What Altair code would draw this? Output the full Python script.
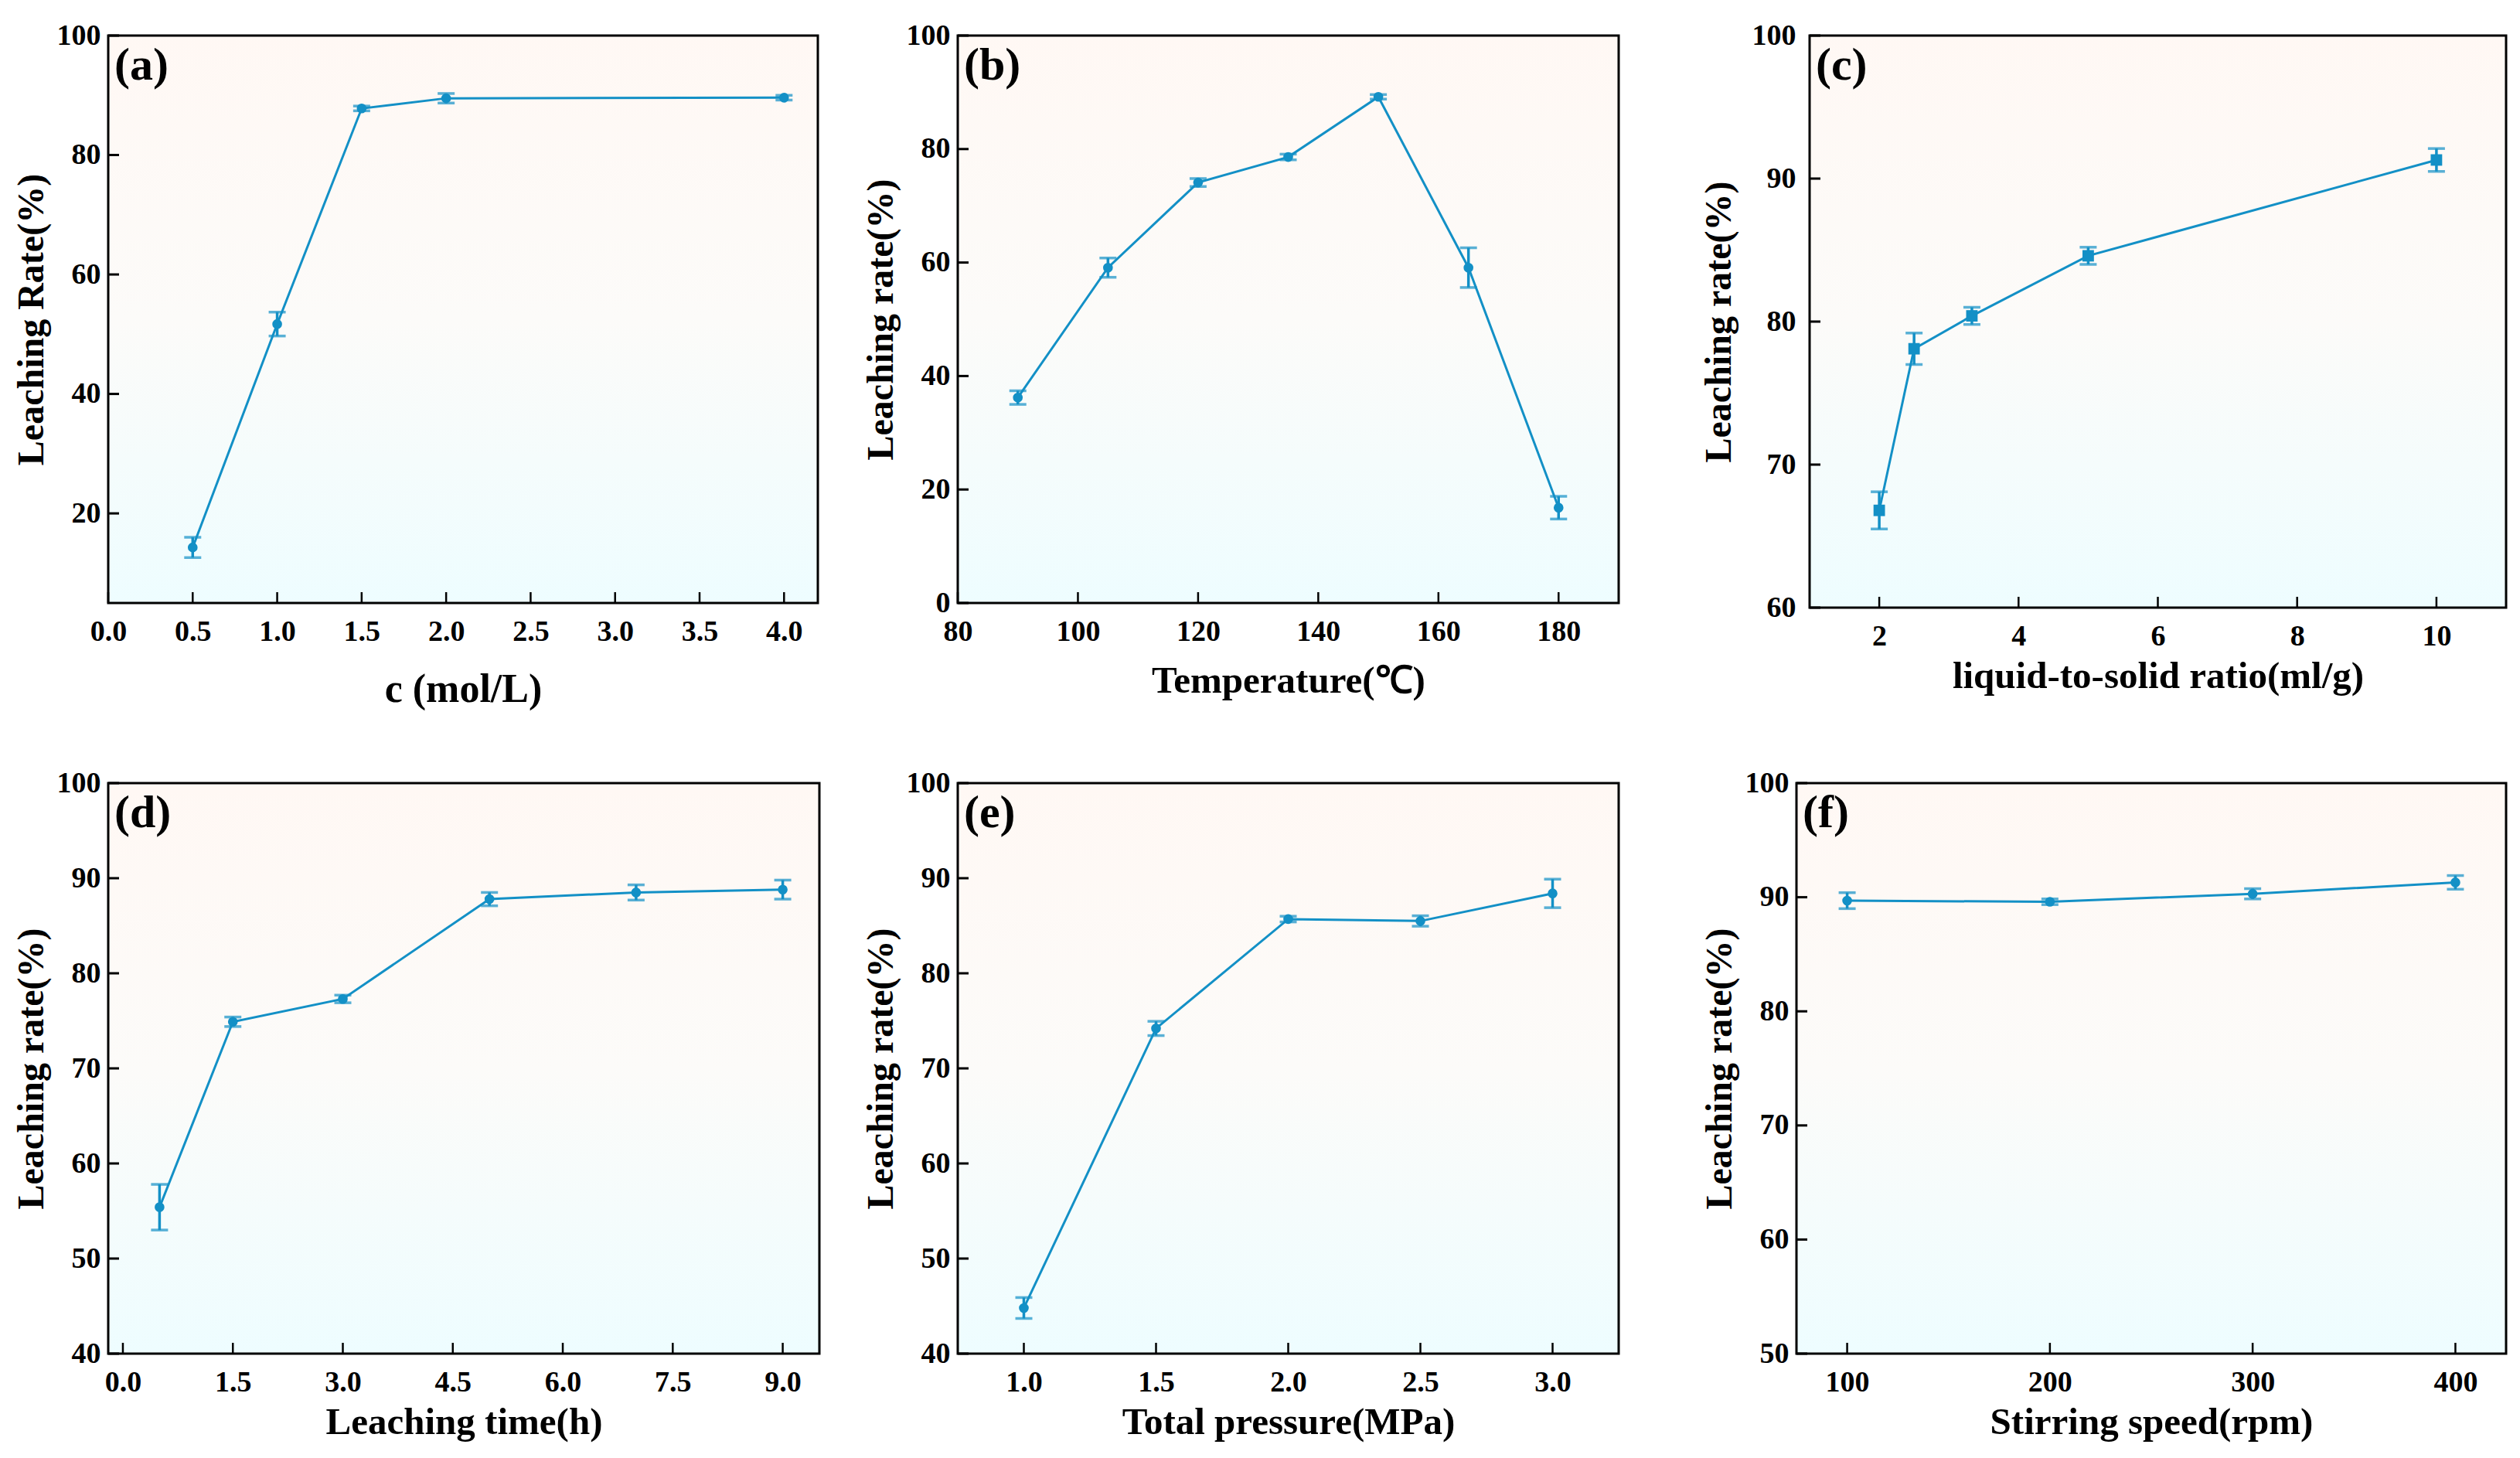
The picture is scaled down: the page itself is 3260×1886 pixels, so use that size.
import altair as alt
import pandas as pd

BLUE = "#1390c6"
FONT = "Liberation Serif"

# (a) acid concentration
conc = [0.5, 1.0, 1.5, 2.0, 4.0]
rate_a = [14.3, 51.7, 87.8, 89.5, 89.6]
err_a = [1.7, 2.0, 0.4, 0.8, 0.4]

# (b) temperature
temp = [90, 105, 120, 135, 150, 165, 180]
rate_b = [36.2, 59.1, 74.1, 78.6, 89.2, 59.1, 16.8]
err_b = [1.2, 1.7, 0.7, 0.5, 0.4, 3.5, 2.0]

# (c) liquid-to-solid ratio
ratio = [2.0, 2.5, 3.33, 5.0, 10.0]
rate_c = [66.8, 78.1, 80.4, 84.6, 91.3]
err_c = [1.3, 1.1, 0.6, 0.6, 0.8]

# (d) leaching time
time_h = [0.5, 1.5, 3.0, 5.0, 7.0, 9.0]
rate_d = [55.4, 74.9, 77.3, 87.8, 88.5, 88.8]
err_d = [2.4, 0.5, 0.4, 0.7, 0.8, 1.0]

# (e) total pressure
press = [1.0, 1.5, 2.0, 2.5, 3.0]
rate_e = [44.8, 74.2, 85.7, 85.5, 88.4]
err_e = [1.1, 0.75, 0.3, 0.55, 1.5]

# (f) stirring speed
speed = [100, 200, 300, 400]
rate_f = [89.7, 89.6, 90.3, 91.3]
err_f = [0.7, 0.25, 0.45, 0.6]

bg_fill = alt.Gradient(
    gradient="linear",
    stops=[alt.GradientStop(color="#fff8f4", offset=0),
           alt.GradientStop(color="#fcfbf9", offset=0.5),
           alt.GradientStop(color="#eefdff", offset=1)],
    x1=0, x2=0, y1=0, y2=1,
)

# shared text styling for axes
axis_style = dict(
    tickSize=0, domain=False, grid=False, labelFlush=False, labelOverlap=False,
    labelFont=FONT, labelFontWeight="bold", labelFontSize=38, labelColor="black",
    titleFont=FONT, titleFontWeight="bold", titleColor="black",
)


def panel(xv, yv, ev, tag, xtitle, xdom, xticks, xfmt, ydom, yticks, ytitle,
          w, h, shape="circle", xtitle_size=49, xtitle_pad=8, ylab_pad=10, ytitle_pad=8):
    df = pd.DataFrame({"x": xv, "y": yv})
    df["lo"] = [a - b for a, b in zip(yv, ev)]
    df["hi"] = [a + b for a, b in zip(yv, ev)]

    xs = alt.Scale(domain=xdom, nice=False, zero=False)
    ys = alt.Scale(domain=ydom, nice=False, zero=False)
    xaxis = alt.Axis(values=xticks, format=xfmt, labelPadding=18,
                     titleFontSize=xtitle_size, titlePadding=xtitle_pad, **axis_style)
    yaxis = alt.Axis(values=yticks, format="d", labelPadding=ylab_pad,
                     titleFontSize=48, titlePadding=ytitle_pad, **axis_style)
    X = alt.X("x:Q", scale=xs, axis=xaxis, title=xtitle)
    Y = alt.Y("y:Q", scale=ys, axis=yaxis, title=ytitle)

    one = pd.DataFrame({"tag": [tag]})
    bg = alt.Chart(one).mark_rect(fill=bg_fill, stroke="black", strokeWidth=3).encode(
        x=alt.value(0), x2=alt.value(w), y=alt.value(0), y2=alt.value(h))

    # inward ticks
    xt = alt.Chart(pd.DataFrame({"x": xticks})).mark_rule(color="black", strokeWidth=2.5).encode(
        x=X, y=alt.value(h), y2=alt.value(h - 14))
    yt = alt.Chart(pd.DataFrame({"y": yticks})).mark_rule(color="black", strokeWidth=3).encode(
        y=Y, x=alt.value(0), x2=alt.value(14))

    base = alt.Chart(df)
    bars = base.mark_errorbar(ticks=True, color=BLUE, thickness=3.5, size=22).encode(
        x=X, y=alt.Y("lo:Q", scale=ys, axis=yaxis, title=ytitle), y2="hi:Q")
    line = base.mark_line(color=BLUE, strokeWidth=3).encode(x=X, y=Y)
    pts = base.mark_point(shape=shape, filled=True, opacity=1, color=BLUE,
                          size=220 if shape == "square" else 160).encode(x=X, y=Y)
    lab = alt.Chart(one).mark_text(font=FONT, fontWeight="bold", fontSize=60,
                                   align="left", baseline="top").encode(
        text="tag:N", x=alt.value(8), y=alt.value(10))

    return alt.layer(bg, xt, yt, bars, line, pts, lab).properties(width=w, height=h)


pa = panel(conc, rate_a, err_a, "(a)", "c (mol/L)", [0, 4.2],
           [0, 0.5, 1.0, 1.5, 2.0, 2.5, 3.0, 3.5, 4.0], ".1f",
           [5, 100], [20, 40, 60, 80, 100], "Leaching Rate(%)", 918, 734,
           xtitle_size=52, xtitle_pad=30)
pb = panel(temp, rate_b, err_b, "(b)", "Temperature(℃)", [80, 190],
           [80, 100, 120, 140, 160, 180], "d",
           [0, 100], [0, 20, 40, 60, 80, 100], "Leaching rate(%)", 855, 734,
           xtitle_pad=20)
pc = panel(ratio, rate_c, err_c, "(c)", "liquid-to-solid ratio(ml/g)", [1, 11],
           [2, 4, 6, 8, 10], "d",
           [60, 100], [60, 70, 80, 90, 100], "Leaching rate(%)", 901, 740, shape="square",
           ylab_pad=18, ytitle_pad=18)
pd_ = panel(time_h, rate_d, err_d, "(d)", "Leaching time(h)", [-0.2, 9.5],
            [0, 1.5, 3.0, 4.5, 6.0, 7.5, 9.0], ".1f",
            [40, 100], [40, 50, 60, 70, 80, 90, 100], "Leaching rate(%)", 920, 738)
pe = panel(press, rate_e, err_e, "(e)", "Total pressure(MPa)", [0.75, 3.25],
           [1.0, 1.5, 2.0, 2.5, 3.0], ".1f",
           [40, 100], [40, 50, 60, 70, 80, 90, 100], "Leaching rate(%)", 855, 738)
pf = panel(speed, rate_f, err_f, "(f)", "Stirring speed(rpm)", [75, 425],
           [100, 200, 300, 400], "d",
           [50, 100], [50, 60, 70, 80, 90, 100], "Leaching rate(%)", 918, 738)

row1 = alt.hconcat(alt.hconcat(pa, pb, spacing=56), pc, spacing=104)
row2 = alt.hconcat(alt.hconcat(pd_, pe, spacing=54), pf, spacing=105)

chart = alt.vconcat(row1, row2, spacing=77).properties(
    padding={"left": 9, "top": 19, "right": 5, "bottom": 5},
    background="white",
).configure_view(stroke=None)

chart.save("out.html", embed_options={"renderer": "svg", "actions": False})
